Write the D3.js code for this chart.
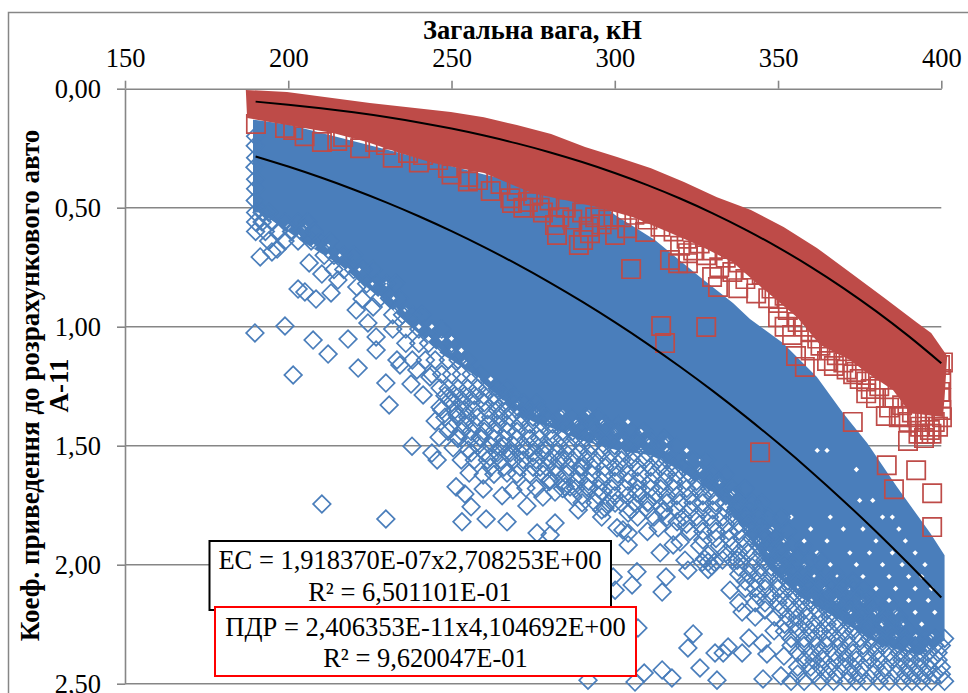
<!DOCTYPE html>
<html><head><meta charset="utf-8">
<script src="https://cdn.jsdelivr.net/npm/d3@7/dist/d3.min.js"></script>
<style>body{margin:0;background:#fff}svg{display:block}text{font-family:"Liberation Serif",serif;fill:#000}</style>
</head><body><svg id="c" width="968" height="693"></svg>
<script>
const xTicks=[150,200,250,300,350,400];
const yTicks=[0,0.5,1,1.5,2,2.5];
const xTitle="Загальна вага, кН";
const yTitle=["Коеф. приведення до розрахункового авто","А-11"];
const ecLabel=["ЕС = 1,918370E-07x2,708253E+00","R² = 6,501101E-01"];
const pdrLabel=["ПДР = 2,406353E-11x4,104692E+00","R² = 9,620047E-01"];

const trendX=[190,200,210,220,230,240,250,260,270,280,290,300,310,320,330,340,350,360,370,380,390,400];
const ecTrend=[.2847,.3271,.3733,.4234,.4776,.5359,.5986,.6657,.7373,.8136,.8948,.9808,1.0719,1.1682,1.2696,1.3767,1.4891,1.6069,1.7309,1.8604,1.9960,2.1377];
const pdrTrend=[.0543,.0671,.0819,.0992,.1190,.1417,.1676,.1968,.2298,.2668,.3081,.3541,.4051,.4615,.5237,.5920,.6667,.7484,.8376,.9346,1.0397,1.1535];

// outlines of the saturated clouds
const redMass=[[187,.005],[199.6,.014],[225,.06],[249.8,.098],[259.9,.12],[270,.153],[280.5,.19],[290.9,.245],[300.7,.287],[311.1,.334],[321.2,.392],[331.3,.456],[341.7,.51],[351.7,.581],[361.9,.669],[372.3,.774],[382.5,.878],[392.6,.983],[396.9,1.026],[401.8,1.123],[401,1.3],[400.5,1.379],[390.4,1.363],[385.2,1.266],[377.3,1.195],[372,1.14],[362.9,1.077],[355.8,.96],[344.5,.83],[336.2,.73],[326.1,.66],[316,.6],[305.6,.54],[295.5,.5],[285.4,.47],[275,.44],[260,.354],[244.3,.312],[234.2,.27],[224.1,.224],[213.7,.186],[199.6,.153],[187.4,.123]];
const blueMass=[[189.2,.13],[200,.15],[260,.36],[295,.47],[300.1,.531],[312.3,.636],[326.1,.791],[336.2,.9],[341.4,.968],[351.5,1.069],[361.9,1.211],[369.9,1.363],[377.3,1.489],[386.4,1.673],[396.6,1.867],[401,1.96],[401,2.317],[393.5,2.38],[381.2,2.338],[369,2.233],[356.7,2.136],[347.6,2.022],[339.6,1.854],[331.3,1.708],[320,1.603],[311,1.54],[300.7,1.519],[289.4,1.476],[280.5,1.425],[271,1.38],[264.9,1.3],[256.6,1.2],[246.5,1.11],[236.4,.985],[225.9,.855],[215.8,.74],[205.7,.655],[191.4,.52],[189.2,.52]];

// white specks left inside the saturated cloud
const gapRows=[[.58,196,200,205],[.62,203],[.66,208,212],[.7,212,216],[.76,218,222],[.82,222,226,230],[.88,228,232],[.93,233,236],[1,240,244],[1.05,243,247,250],[1.1,246,250,253],[1.15,250,254],
[1.22,258,262],[1.28,262],[1.32,266,270],[1.36,270,276,284,292],[1.4,274,280,288,296,304],[1.44,280,286,292,300,308],[1.48,294,302,310,316],[1.52,302,308,316,322,362,365],[1.56,314,322,326],[1.6,318,326,374],[1.65,326,332],[1.7,330,336],[1.73,375,379],[1.75,334],
[1.8,354,366,382,385],[1.85,340,348,360,370,376,387],[1.9,344,352,358,365,380,389],[1.95,347,354,362,372,378,385,392],[2,350,358,366,374,382,388,395],[2.05,352,361,368,376,384,390,394],[2.1,356,364,372,380,386,392,397],[2.15,360,368,376,384,390,396],[2.2,364,372,380,386,392,398],[2.25,368,374,382,388,394],[2.3,374,380,386,392,397],[2.35,384,390,396]];

const blueSingles=[[189.8,1.026],[199,.997],[191.4,.707],[196.6,.674],[195,.686],[203,.842],[205.1,.854],[208.5,.884],[213.1,.858],[206.4,.732],[210.3,.779],[215.2,.804],[207.6,1.056],[218.3,1.052],[212.2,1.115],[221.4,1.174],[201.5,1.203],[229.9,1.237],[230.9,1.329],[237.9,1.502],[210.3,1.745],[229.9,1.808],[220.8,.93],[224.4,.984],[226.9,1.043],[226.9,1.098],[221,.833],[222.6,.884],[226,.917],[233.3,1.14],[237.6,1.241],[241.3,1.287],[239.4,1.182],[234.2,1.161],[243.4,1.211],[246.5,1.258],[245,1.396],[246.2,1.464],[244,1.531],[245.6,1.56],[250.5,1.509],[255.1,1.518],[251.7,1.371],[249.5,1.308],[246.5,1.338],[255.4,1.615],[259.7,1.623],[251.4,1.673],[254.1,1.703],[259.7,1.682],[256,1.757],[253.2,1.82],[260.6,1.808],[267,1.82],[265.5,1.71],[268.8,1.686],[273.1,1.753],[278,1.716],[272.8,1.678],[281.7,1.695],[276.2,1.867],[281.7,1.825],[280.2,1.875],[287.2,1.716],[288.8,1.77],[286.3,1.673],[280.2,1.644],[267,1.615],[261.8,1.548],[267,1.531],[273.1,1.518],[278.6,1.518],[277.1,1.59],[284.2,1.56],[289.4,1.59],[251.7,1.464],[258.7,1.464],[264.9,1.505],[291.5,1.673],[284.8,1.673],[297,1.762],[296.4,1.695],[300.1,1.741],[304.1,1.783],[300.7,1.845],[304.1,1.867],[304.1,1.917],[302.5,1.854],[313.3,1.845],[314.8,1.778],[310.2,1.737],[306.8,1.699],[319.1,1.82],[313.9,1.95],[317.9,1.917],[320,1.905],[322.4,2.023],[321.5,1.981],[327,1.896],[337.5,1.981],[335.3,2.107],[339,2.199],[328.6,1.989],[326.8,1.99],[330.5,1.99],[328.6,1.96],[328.6,2.02],[327.5,1.975],[329.7,2.005],[306.8,2.03],[305.3,2.085],[299.5,2.052],[300.1,2.107],[315.7,2.052],[314.5,2.115],[324,2.291],[322.4,2.35],[326.1,2.434],[331.3,2.485],[330.7,2.371],[333.2,2.371],[334.7,2.346],[339,2.371],[341.1,2.308],[314.5,2.442],[317.5,2.476],[309,2.455],[306.2,2.493],[291.8,2.485],[307.1,2.266],[345.4,2.48],[350.9,2.467],[346.6,2.375],[351.8,2.384],[345.1,2.329],[348.8,2.278]];

// rows of the lace-like fringe: first value is the coefficient, the rest are weights
const blueRows=[
[.2,190],[.24,189.9],[.29,190],[.33,189.8],[.38,190],[.42,190],[.47,189.9],
[.52,190,192,194],[.56,190,192,195,199,203,206],[.6,190,193,197,201,204,208],[.64,194,199,203,207,210,213],
[.7,211,214,217,220],[.76,214,217,220,223,226],[.82,224,227,230,233],[.88,228,231,234],[.95,232,235,238,241],
[1.01,232,236,240,244,247],[1.07,236,240,243,247,250],[1.14,238,242,245,249,252,255],
[1.2,244,247,250,253,256,259],[1.26,249,252,255,258,261,264,267],[1.29,248,251,254,257,260,263,266,269],[1.32,250,253,256,260,263,266,269,272,276],
[1.35,247,251,254,257,261,264,267,270,274,277],
[1.38,248,252,255,258,262,265,268,272,275,279,283,287,291,295],
[1.41,250,254,257,261,264,267,271,274,278,281,285,289,293,297,301],
[1.44,249,253,256,260,263,267,270,273,277,280,284,287,290,294,297,301,305,309],
[1.47,252,256,259,263,266,270,274,277,281,284,288,291,295,299,303,307,311,315],
[1.5,258,262,266,269,272,276,279,283,286,290,293,297,300,304,308,311,315,319],
[1.53,256,260,264,268,271,275,278,282,285,289,292,296,299,303,306,310],
[1.56,253,257,261,265,269,272,276,280,283,287,291,294,298,302,305,309,313,316,320,324,328],
[1.59,262,266,271,275,279,282,286,290,293,297,300,303,307,311,314,318,321],
[1.62,263,270,274,278,282,285,289,293,297,301,304,308,312,316,319,323,327,330,334],
[1.65,280,284,288,292,296,300,304,307,311,315,318,322,325,329,332],
[1.68,276,284,288,292,295,299,303,307,311,314,318,322,325,329,332,336,340],
[1.71,290,295,300,304,308,312,316,319,323,327,330,334,337],
[1.74,290,294,298,302,306,310,316,320,324,327,331,334,338,342,345],
[1.77,296,305,310,315,319,323,327,330,334,337,341,344],
[1.8,296,307,312,316,321,325,329,333,336,340,344,347,351],
[1.83,322,326,330,334,338,341,345],
[1.86,310,318,323,327,331,335,338,342,346,349,353],
[1.89,331,335,339,342,346,349],
[1.92,326,332,336,340,344,347,351,354,358],
[1.95,334,338,341,345,348,352],
[1.98,333,336,339,343,346,350,353,356,360,363],
[2.01,338,342,345,348,352,355],
[2.04,338,341,344,348,351,354,358,361,365,368],
[2.07,340,343,346,350,353,356,359,363,366,370,373],
[2.1,340,343,346,350,353,356,360,363,366,370,373,376],
[2.13,344,348,351,355,358,361,365,368,372,375,378],
[2.16,338,343,346,350,353,357,360,363,367,370,374,377,380,384],
[2.19,346,351,355,358,362,365,368,372,375,379,382,385],
[2.22,343,349,353,356,359,363,366,370,373,376,380,383,387],
[2.25,352,355,358,361,365,368,372,375,378,382,385,388],
[2.28,352,356,360,363,366,370,373,377,380,384,387,390],
[2.31,354,358,361,365,368,371,375,378,382,385,389,392,395,398,401],
[2.34,354,358,362,365,369,372,376,379,382,386,389,392,395,398,400],
[2.37,356,360,363,367,370,373,377,380,384,387,390,393,396,399],
[2.4,358,361,364,368,371,374,378,381,385,388,391,394,397,399],
[2.43,356,360,363,366,370,373,376,380,383,387,390,393,396,400],
[2.46,356,361,365,368,372,375,379,382,386,389,392,395,398,400],
[2.49,354,358,363,367,371,374,377,381,384,388,391,394,397,401]];

const redSingles=[[190.1,.148],[199,.165],[201.5,.173],[210.3,.224],[216.8,.203],[226.6,.224],[229.9,.237],[236.7,.27],[241.3,.279],[245.9,.3],[248.9,.333],[255.1,.371],[258.1,.384],[268.5,.48],[273.4,.476],[281.7,.573],[282.3,.615],[289,.657],[290.3,.636],[292.4,.607],[300.1,.615],[303.8,.586],[305,.758],[309.3,.602],[316.9,.72],[319.4,.733],[322.4,.733],[322.4,.691],[329.8,.791],[331.6,.833],[337.8,.838],[343.3,.86],[314.2,.997],[315.4,1.069],[328,1.001],[354.3,1.035],[355.5,1.123],[358.2,1.169],[365,1.144],[367.1,1.165],[372.9,1.4],[378.4,1.262],[383,1.375],[387.6,1.375],[383.3,1.582],[392.3,1.603],[385.5,1.683],[397.2,1.7],[397.2,1.842],[344.5,1.528],[389.8,1.48],[394.7,1.468],[396.5,1.434],[400.2,1.38],[399.6,1.274],[399.6,1.161],[393.5,1.42],[392.6,1.38],
[265,.4],[270,.43],[275,.45],[280,.47],[285,.5],[290,.52],[294,.54],[298,.55],[302,.54],[306,.53],[310,.55],[314,.58],[318,.6],[322,.63],[326,.65],[330,.68],[334,.71],[338,.73],[342,.76],[345,.78],[348,.84],[352,.87],[340,.8],[336,.77],[332,.75],[328,.7],[324,.68],[320,.66],[287,.55],[292,.58],[296,.57],[278,.52],[283,.54],[356,.98],[360,1.02],[363,1.08],[366,1.1],[370,1.15],[374,1.19],[377,1.23],[381,1.25],[385,1.3],[388,1.33],[391,1.36],[395,1.4],[398,1.4],[400,1.35],[400,1.3],[400,1.22],[400.5,1.15],
[350,.9],[353,.93],[347,.88],[350,.96],[358,1],[362,1.05],[352,1],[360,1.1],[371,1.18],[375,1.22],[380,1.3],[384,1.34],[387,1.38],[390,1.4],[393,1.45],[397,1.45],[399,1.42],[368,1.12],[373,1.2],[377,1.28],[395,1.45],
[205,.2],[215,.22],[222,.25],[232,.29],[240,.31],[250,.36],[255,.39],[262,.43],[268,.46],[272,.5],[277,.5]];

const GREY="#868686",BLUE="#4a7ebb",RED="#be4b48";
const x=d3.scaleLinear().domain([150,400]).range([125,941.3]);
const y=d3.scaleLinear().domain([0,2.5]).range([88.7,683.7]);
const svg=d3.select("#c");
const comma=d=>d3.format(".2f")(d).replace(".",",");

svg.append("rect").attr("x",8.5).attr("y",12.5).attr("width",1000).attr("height",720).attr("fill","#fff").attr("stroke",GREY).attr("stroke-width",1.5);

const ga=svg.append("g").attr("transform",`translate(0,${y(0)})`).call(d3.axisTop(x).tickValues(xTicks).tickSize(8).tickPadding(14).tickSizeOuter(0));
const gl=svg.append("g").attr("transform",`translate(${x(150)},0)`).call(d3.axisLeft(y).tickValues(yTicks).tickFormat(comma).tickSize(8).tickPadding(16).tickSizeOuter(0));
[ga,gl].forEach(g=>{g.selectAll("path,line").attr("stroke",GREY).attr("stroke-width",1.6);g.selectAll("text").attr("font-size",26.5).attr("font-family","Liberation Serif").attr("fill","#000");});
svg.append("g").selectAll("line").data(yTicks.slice(1)).join("line").attr("x1",x(150)).attr("x2",x(400)).attr("y1",d=>y(d)).attr("y2",d=>y(d)).attr("stroke",GREY).attr("stroke-width",1.6);

const line=d3.line().x(d=>x(d[0])).y(d=>y(d[1]));
const diamond=d3.symbol(d3.symbolSquare,155)();
const square=d3.symbol(d3.symbolSquare,335)();
const speck=d3.symbol(d3.symbolSquare,14)();
const expand=rows=>rows.flatMap(r=>r.slice(1).map(v=>[v,r[0]]));

svg.append("path").attr("d",line(blueMass)+"Z").attr("fill",BLUE);
svg.append("g").selectAll("path").data(expand(gapRows)).join("path").attr("d",speck)
 .attr("transform",d=>`translate(${x(d[0])},${y(d[1])}) rotate(45)`).attr("fill","#fff");
svg.append("g").selectAll("path").data(blueSingles.concat(expand(blueRows))).join("path").attr("d",diamond)
 .attr("transform",d=>`translate(${x(d[0])},${y(d[1])}) rotate(45)`).attr("fill","none").attr("stroke",BLUE).attr("stroke-width",1.7);
svg.append("g").selectAll("path").data(redSingles).join("path").attr("d",square)
 .attr("transform",d=>`translate(${x(d[0])},${y(d[1])})`).attr("fill","none").attr("stroke",RED).attr("stroke-width",1.7);
svg.append("path").attr("d",line(redMass)+"Z").attr("fill",RED);

const trend=d3.line().x((d,i)=>x(trendX[i])).y(d=>y(d)).curve(d3.curveMonotoneX);
[ecTrend,pdrTrend].forEach(t=>svg.append("path").attr("d",trend(t)).attr("fill","none").attr("stroke","#000").attr("stroke-width",2));

svg.append("text").attr("x",532.5).attr("y",39).attr("text-anchor","middle").attr("font-size",26.5).attr("font-weight","bold").text(xTitle);
yTitle.forEach((t,i)=>svg.append("text").attr("transform",`translate(${i?68:38.5},385.5) rotate(-90)`).attr("text-anchor","middle").attr("font-size",27).attr("font-weight","bold").text(t));

function box(x0,y0,x1,y1,col,lines,cx,b1,b2){
 svg.append("rect").attr("x",x0).attr("y",y0).attr("width",x1-x0).attr("height",y1-y0).attr("fill","#fff").attr("stroke",col).attr("stroke-width",2);
 svg.append("text").attr("x",cx).attr("y",b1).attr("text-anchor","middle").attr("font-size",26.5).text(lines[0]);
 svg.append("text").attr("x",cx).attr("y",b2).attr("text-anchor","middle").attr("font-size",26.5).text(lines[1]);
}
box(209.5,541,611,610,"#000",ecLabel,410,569,601);
box(215,607,636,676,"#f00",pdrLabel,425.5,636,667);
</script></body></html>
